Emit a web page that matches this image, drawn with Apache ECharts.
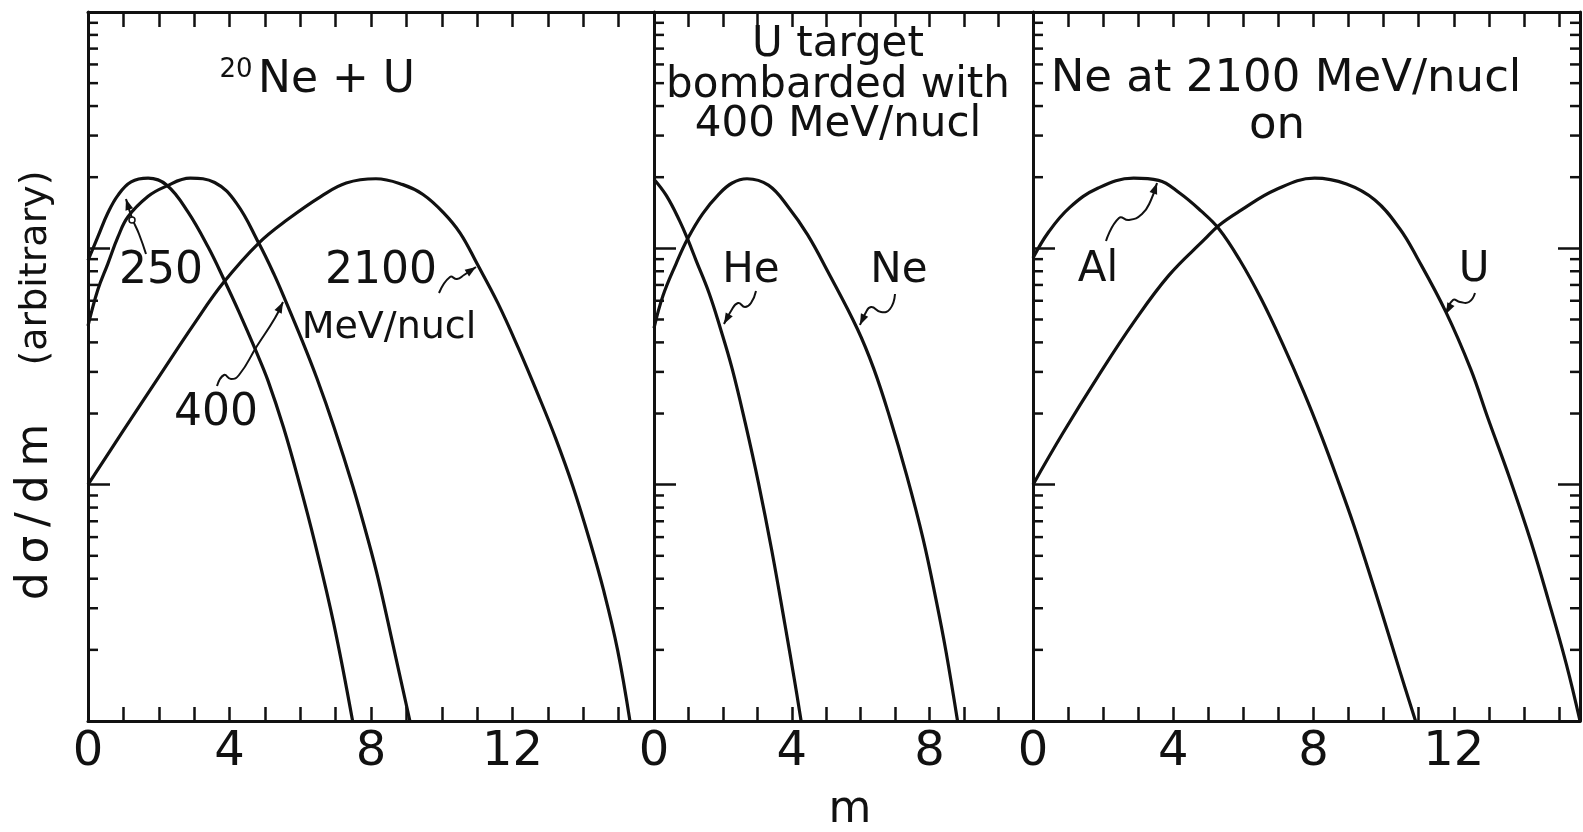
<!DOCTYPE html>
<html>
<head>
<meta charset="utf-8">
<script src="https://cdn.jsdelivr.net/npm/echarts@6/dist/echarts.min.js"></script>
<style>
  html, body { margin: 0; padding: 0; background: #fff; }
  #chart { width: 1583px; height: 832px; }
</style>
</head>
<body>
<div id="chart"></div>
<script>
// panel 1: 20Ne + U at three beam energies
const m250 = [0, 0.28, 0.56, 0.85, 1.22, 1.7, 2.23, 2.82, 3.4, 3.84, 4.27, 4.75, 5.09, 5.53, 5.97, 6.41, 6.95, 7.48]
const y250 = [89, 112, 141, 168, 191, 198, 185, 143, 101, 74, 53.7, 36.7, 27.5, 17.4, 10.2, 5.7, 2.57, 1]
const m400 = [0, 0.28, 0.56, 0.85, 1.13, 1.7, 2.17, 2.89, 3.58, 4.2, 4.83, 5.26, 5.55, 6.08, 6.47, 6.95, 7.49, 7.93, 8.22, 8.61, 9.1]
const y400 = [47, 67, 86, 112, 136, 166, 182, 198, 190, 155, 105, 77.6, 61.7, 39.8, 28.2, 17.6, 9.8, 5.75, 3.9, 2.14, 1]
const m2100 = [0, 0.96, 1.97, 3.0, 3.83, 4.82, 5.66, 6.59, 7.3, 8.14, 8.9, 9.47, 10.04, 10.52, 11.0, 11.58, 12.16, 12.74, 13.22, 13.71, 14.19, 14.58, 14.97, 15.32]
const y2100 = [10, 16.6, 28.1, 47.9, 71.6, 105, 133, 166, 189, 197, 186, 169, 142, 116, 86, 58.9, 38, 23.7, 15.7, 9.8, 5.75, 3.55, 2.0, 1]

// panel 2: U target, 400 MeV/nucl He and Ne
const mHe = [0, 0.36, 0.74, 0.98, 1.22, 1.6, 1.93, 2.27, 2.65, 3.03, 3.42, 3.8, 4.08, 4.27]
const yHe = [196, 167, 131, 109, 89, 64.6, 45.7, 30.9, 18.2, 10.2, 5.25, 2.56, 1.48, 1]
const mNe = [0, 0.26, 0.64, 0.98, 1.41, 1.89, 2.27, 2.7, 3.32, 3.89, 4.46, 5.04, 5.9, 6.38, 6.85, 7.33, 7.81, 8.19, 8.48, 8.81]
const yNe = [46, 63, 86, 110, 140, 170, 189, 197, 185, 150, 114, 80, 45.7, 30.9, 19.1, 11.0, 5.9, 3.24, 1.95, 1]

// panel 3: Ne at 2100 MeV/nucl on Al and U
const mAl = [0, 0.44, 1.05, 1.86, 2.87, 3.58, 4.19, 4.79, 5.3, 5.9, 6.51, 7.12, 7.72, 8.23, 8.74, 9.14, 9.55, 9.95, 10.46, 10.91]
const yAl = [91, 117, 149, 180, 198, 194, 171, 144, 121, 89, 61, 39.4, 24.7, 16.0, 10.0, 6.8, 4.43, 2.87, 1.63, 1]
const mU = [0, 0.85, 1.86, 2.87, 3.88, 4.89, 5.3, 5.9, 6.92, 8.03, 8.94, 9.75, 10.46, 10.96, 11.77, 12.48, 12.98, 13.59, 14.2, 14.7, 15.21, 15.6]
const yU = [10, 16.5, 28.8, 48.6, 77, 109, 125, 144, 177, 198, 187, 160, 121, 91, 54, 30.9, 19.0, 10.7, 5.75, 3.24, 1.74, 1]

const xMax = [16, 11, 15.6]
const xLabels = [0, 4, 8, 12]
const yMin = 1
const yMax = 1000
// minor ticks of the log axis: 2..9 in every decade
const minorTickValues = [2, 3, 4, 5, 6, 7, 8, 9, 20, 30, 40, 50, 60, 70, 80, 90, 200, 300, 400, 500, 600, 700, 800, 900]

const FONT = '"DejaVu Sans", sans-serif'
const INK = '#111'

const grids = [
  { left: 88, top: 12, width: 566, height: 709 },
  { left: 654, top: 12, width: 379, height: 709 },
  { left: 1033, top: 12, width: 547, height: 709 }
]

function pairs(xs, ys) {
  return xs.map((x, i) => [x, ys[i]])
}

const xAxis = []
grids.forEach((g, i) => {
  xAxis.push({
    type: 'value', gridIndex: i, min: 0, max: xMax[i], interval: 1,
    axisLine: { onZero: false, lineStyle: { color: INK, width: 3 } },
    axisTick: { inside: true, length: 14, lineStyle: { color: INK, width: 2.5 } },
    axisLabel: {
      color: INK, fontSize: 48, fontFamily: FONT, margin: 8,
      formatter: function(v) {
        return (xLabels.indexOf(v) >= 0 && v < xMax[i]) ? String(v) : ''
      }
    },
    splitLine: { show: false }
  })
  xAxis.push({
    type: 'value', gridIndex: i, position: 'top', min: 0, max: xMax[i], interval: 1,
    axisLine: { onZero: false, lineStyle: { color: INK, width: 3 } },
    axisTick: { inside: true, length: 15, lineStyle: { color: INK, width: 2.5 } },
    axisLabel: { show: false },
    splitLine: { show: false }
  })
})

function logAxis(i, pos) {
  return {
    type: 'log', logBase: 10, gridIndex: i, position: pos, min: yMin, max: yMax,
    axisLine: { show: true, onZero: false, lineStyle: { color: INK, width: 3 } },
    axisTick: { show: true, inside: true, length: 22, lineStyle: { color: INK, width: 2.5 } },
    axisLabel: { show: false },
    splitLine: { show: false }
  }
}

const yAxis = [logAxis(0, 'left'), logAxis(1, 'left'), logAxis(2, 'left'), logAxis(2, 'right')]

function curve(name, xi, yi, xs, ys) {
  return {
    name: name, type: 'line', xAxisIndex: xi, yAxisIndex: yi,
    data: pairs(xs, ys), smooth: 0.4, showSymbol: false, silent: true,
    lineStyle: { color: INK, width: 3.2 }
  }
}

// short inward ticks at 2..9 x 10^n, placed through the log axis
function minorTicks(xi, yi, xAt, dir) {
  return {
    type: 'custom', xAxisIndex: xi, yAxisIndex: yi, silent: true, clip: false,
    data: minorTickValues.map(v => [xAt, v]),
    renderItem: function(params, api) {
      const p = api.coord([api.value(0), api.value(1)])
      return {
        type: 'line',
        shape: { x1: p[0], y1: p[1], x2: p[0] + dir * 10, y2: p[1] },
        style: { stroke: INK, lineWidth: 2.5 }
      }
    }
  }
}

const series = [
  curve('250', 0, 0, m250, y250),
  curve('400', 0, 0, m400, y400),
  curve('2100', 0, 0, m2100, y2100),
  curve('He', 2, 1, mHe, yHe),
  curve('Ne', 2, 1, mNe, yNe),
  curve('Al', 4, 2, mAl, yAl),
  curve('U', 4, 2, mU, yU),
  minorTicks(0, 0, 0, 1),
  minorTicks(2, 1, 0, 1),
  minorTicks(4, 2, 0, 1),
  minorTicks(4, 3, xMax[2], -1)
]

function label(text, x, y, size) {
  return {
    type: 'text', silent: true,
    style: { text: text, x: x, y: y, font: size + 'px ' + FONT, fill: INK, align: 'center', verticalAlign: 'middle' }
  }
}

// squiggly leader with an arrow head at the last point
function leader(pts) {
  const a = pts[pts.length - 2]
  const b = pts[pts.length - 1]
  const ang = Math.atan2(b[1] - a[1], b[0] - a[0])
  const L = 11, W = 4
  const bx = b[0] - L * Math.cos(ang), by = b[1] - L * Math.sin(ang)
  const head = [
    b,
    [bx + W * Math.sin(ang), by - W * Math.cos(ang)],
    [bx - W * Math.sin(ang), by + W * Math.cos(ang)]
  ]
  return [
    { type: 'polyline', silent: true, shape: { points: pts, smooth: 0.5 }, style: { stroke: INK, lineWidth: 2, fill: null } },
    { type: 'polygon', silent: true, shape: { points: head }, style: { fill: INK } }
  ]
}

const graphic = [].concat(
  label('20', 236, 70, 26),
  { type: 'text', silent: true, style: { text: 'Ne + U', x: 258, y: 81, font: '44px ' + FONT, fill: INK, align: 'left', verticalAlign: 'middle' } },
  label('U target', 838, 45, 42),
  label('bombarded with', 838, 86, 42),
  label('400 MeV/nucl', 838, 125, 42),
  label('Ne at 2100 MeV/nucl', 1286, 79, 45),
  label('on', 1277, 126, 45),
  label('250', 161, 272, 44),
  label('400', 216, 414, 44),
  label('2100', 381, 272, 44),
  label('MeV/nucl', 389, 328, 38),
  label('He', 751, 271, 42),
  label('Ne', 899, 271, 42),
  label('Al', 1098, 270, 42),
  label('U', 1474, 270, 42),
  label('m', 850, 811, 44),
  {
    type: 'text', silent: true, x: 36, y: 268, rotation: Math.PI / 2,
    style: { text: '(arbitrary)', x: 0, y: 0, font: '38px ' + FONT, fill: INK, align: 'center', verticalAlign: 'middle' }
  },
  {
    type: 'text', silent: true, x: 36, y: 512, rotation: Math.PI / 2,
    style: { text: 'd\u2009\u03c3\u2009/\u2009d\u2009m', x: 0, y: 0, font: '44px ' + FONT, fill: INK, align: 'center', verticalAlign: 'middle' }
  },
  leader([[146, 254], [139, 234], [132, 218], [126, 199]]),
  { type: 'circle', silent: true, shape: { cx: 132, cy: 220, r: 3 }, style: { stroke: INK, lineWidth: 1.5, fill: '#fff' } },
  leader([[217, 386], [224, 375], [231, 379], [239, 375], [257, 346], [275, 318], [283, 302]]),
  leader([[439, 293], [450, 277], [457, 279], [464, 275], [476, 267]]),
  leader([[756, 291], [751, 303], [745, 307], [738, 303], [731, 311], [724, 324]]),
  leader([[895, 294], [890, 309], [881, 312], [871, 307], [865, 314], [860, 325]]),
  leader([[1106, 241], [1119, 218], [1129, 220], [1142, 214], [1151, 200], [1157, 183]]),
  leader([[1475, 293], [1469, 302], [1460, 302], [1453, 300], [1446, 314]])
)

const chart = echarts.init(document.getElementById('chart'), null, { renderer: 'canvas' })
chart.setOption({
  animation: false,
  backgroundColor: '#fff',
  grid: grids,
  xAxis: xAxis,
  yAxis: yAxis,
  series: series,
  graphic: graphic
})
</script>
</body>
</html>
